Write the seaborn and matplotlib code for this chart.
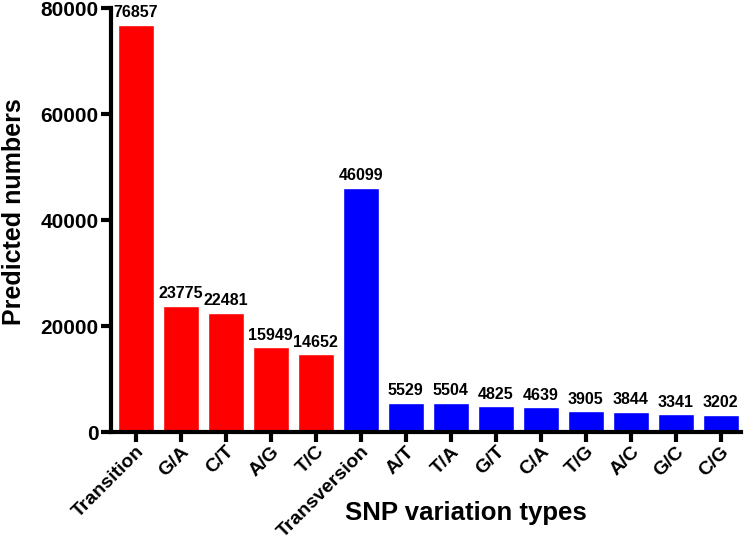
import matplotlib
matplotlib.use("Agg")
import matplotlib.pyplot as plt
import pandas as pd
import seaborn as sns

# values
categories = ["Transition", "G/A", "C/T", "A/G", "T/C",
              "Transversion", "A/T", "T/A", "G/T", "C/A", "T/G", "A/C", "G/C", "C/G"]
counts = [76857, 23775, 22481, 15949, 14652,
          46099, 5529, 5504, 4825, 4639, 3905, 3844, 3341, 3202]
groups = ["Transition"] * 5 + ["Transversion"] * 9
colors = {"Transition": "#FF0000", "Transversion": "#0000FF"}

d = pd.DataFrame({"type": categories, "n": counts, "group": groups})

sns.set_theme(style="ticks")
plt.rcParams["font.family"] = ["Liberation Sans", "DejaVu Sans"]
plt.rcParams["font.weight"] = "bold"
plt.rcParams["text.color"] = "black"
plt.rcParams["axes.labelcolor"] = "black"
plt.rcParams["xtick.color"] = "black"
plt.rcParams["ytick.color"] = "black"

fig = plt.figure(figsize=(7.49, 5.40), dpi=100)
ax = fig.add_axes([0.148, 0.2, 0.841, 0.785])
sns.barplot(data=d, x="type", y="n", hue="group", palette=colors, dodge=False,
            width=0.8, legend=False, saturation=1, ax=ax)

for i, v in enumerate(counts):
    ax.text(i, v + 900, str(v), ha="center", va="bottom", fontsize=11.5,
            fontweight="bold", color="black")

ax.set_ylim(0, 80000)
ax.set_xlim(-0.55, 13.45)
ax.set_yticks([0, 20000, 40000, 60000, 80000])
ax.set_yticklabels(["0", "20000", "40000", "60000", "80000"], fontsize=15, fontweight="bold")
ax.set_xticks(range(len(categories)))
ax.set_xticklabels(categories, rotation=45, ha="right", va="top", rotation_mode="anchor",
                   fontsize=14, fontweight="bold")

for s in ["top", "right"]:
    ax.spines[s].set_visible(False)
for s in ["left", "bottom"]:
    ax.spines[s].set_linewidth(3)
    ax.spines[s].set_color("black")
ax.tick_params(axis="both", direction="out", length=7, width=3, color="black")
ax.tick_params(axis="y", pad=2)
ax.tick_params(axis="x", pad=1)

ax.set_xlabel("SNP variation types", fontsize=18.5, fontweight="bold", va="center")
ax.set_ylabel("Predicted numbers", fontsize=18, fontweight="bold")
ax.xaxis.set_label_coords(0.563, -0.19)
ax.yaxis.set_label_coords(-0.135, 0.52)

fig.savefig("out.png", dpi=100)
